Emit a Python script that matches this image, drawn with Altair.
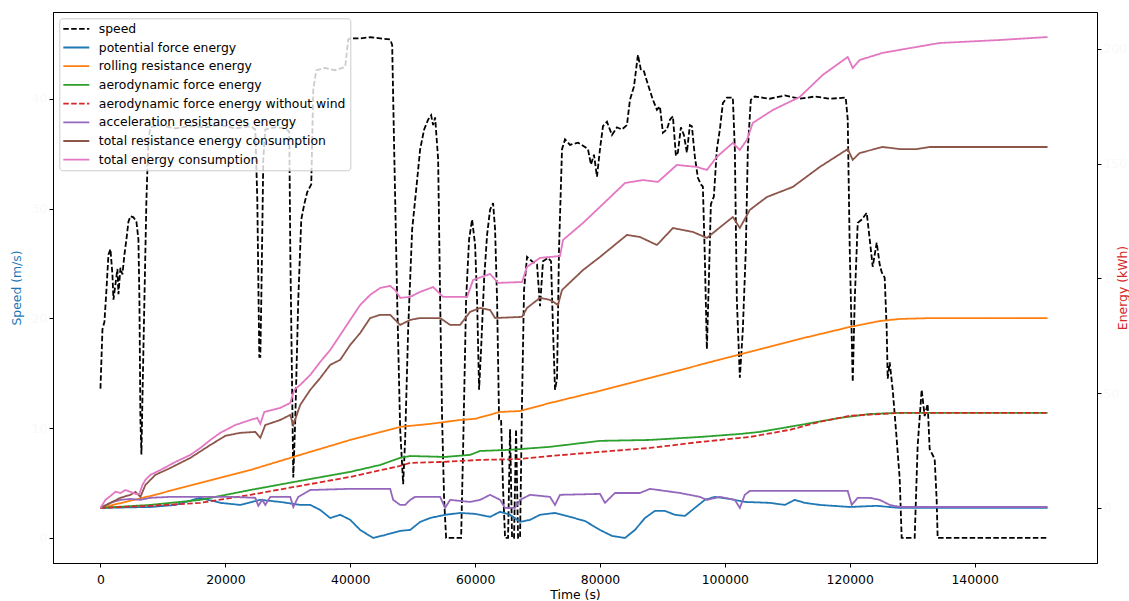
import altair as alt
import pandas as pd

# ---------------- data ----------------
TIME_TICKS = [0, 20000, 40000, 60000, 80000, 100000, 120000, 140000]
SPEED_TICKS = [0, 10, 20, 30, 40]
ENERGY_TICKS = [0, 50, 100, 150, 200]

SERIES = [
    "speed",
    "potential force energy",
    "rolling resistance energy",
    "aerodynamic force energy",
    "aerodynamic force energy without wind",
    "acceleration resistances energy",
    "total resistance energy consumption",
    "total energy consumption",
]
COLORS = ["#000000", "#1f77b4", "#ff7f0e", "#2ca02c", "#d62728", "#9467bd", "#8c564b", "#e377c2"]
DASHED = [True, False, False, False, True, False, False, False]

# (time s, speed m/s)
SPEED = [
    (0, 13.6), (320, 19.0), (640, 19.7), (960, 22.6), (1280, 25.8), (1600, 26.3), (1920, 24.0),
    (2080, 21.7), (2400, 23.1), (2720, 24.5), (2880, 22.2), (3200, 24.6), (3520, 24.0), (3840, 25.8),
    (4160, 27.2), (4480, 28.8), (4800, 29.3), (5280, 29.2), (5760, 28.8), (6080, 27.2), (6240, 21.7),
    (6400, 10.8), (6560, 7.6), (6720, 12.6), (7040, 21.7), (7360, 30.8), (7680, 36.3), (8000, 37.4),
    (9600, 37.6), (12000, 37.3), (14400, 37.5), (16800, 37.4), (19200, 37.6), (21600, 37.3),
    (24000, 37.5), (24800, 37.2), (25120, 30.8), (25440, 16.5), (25600, 16.5), (25760, 21.7),
    (26080, 34.5), (26400, 37.2), (28000, 37.4), (29600, 37.3), (30240, 37.0), (30400, 26.3),
    (30720, 12.6), (30880, 5.5), (31200, 10.8), (31680, 21.7), (32160, 29.0), (32640, 30.4),
    (33120, 31.5), (33760, 32.2), (34080, 40.8), (34560, 42.6), (36000, 42.8), (37600, 42.6),
    (39200, 42.9), (39680, 45.4), (40000, 45.5), (41600, 45.5), (43200, 45.6), (44800, 45.5),
    (46400, 45.4), (46720, 44.9), (47040, 35.4), (47520, 21.7), (48000, 9.9), (48480, 4.9),
    (48800, 9.0), (49280, 19.0), (49920, 28.1), (50560, 31.7), (51200, 35.4), (51840, 37.2),
    (52480, 38.1), (52960, 38.5), (53280, 37.6), (53600, 38.3), (54080, 34.5), (54400, 21.7),
    (54720, 10.8), (55040, 3.5), (55360, 0), (57760, 0), (58080, 8.1), (58560, 21.7), (59040, 27.2),
    (59520, 29.0), (60000, 26.7), (60320, 21.7), (60640, 13.5), (60960, 17.2), (61440, 23.5),
    (61920, 27.6), (62400, 29.9), (62880, 30.5), (63200, 28.1), (63520, 21.7), (63840, 10.8),
    (64160, 10.8), (64480, 4.5), (64800, 0), (65280, 0), (65600, 9.9), (65920, 0), (66240, 0),
    (66560, 9.9), (66880, 0), (67200, 0), (67520, 12.6), (67840, 22.6), (68320, 25.6), (69120, 25.2),
    (69920, 24.9), (70400, 21.1), (70880, 25.2), (71680, 25.5), (72160, 25.2), (72480, 19.0),
    (72800, 13.5), (73120, 14.5), (73440, 26.3), (73920, 35.4), (74400, 36.3), (75200, 35.8),
    (76480, 36.0), (77600, 35.6), (78080, 35.4), (78560, 34.0), (79040, 34.9), (79520, 32.9),
    (80000, 35.4), (80480, 37.5), (81120, 37.9), (81920, 36.7), (82720, 37.4), (83520, 37.2),
    (84320, 37.6), (84800, 39.9), (85440, 41.1), (86080, 44.0), (86560, 42.6), (87040, 42.5),
    (87680, 41.3), (88480, 39.9), (89120, 39.0), (89600, 39.3), (90080, 36.9), (90720, 37.2),
    (91200, 38.1), (91680, 38.4), (92160, 34.8), (92480, 35.1), (92960, 37.4), (93440, 36.7),
    (93920, 35.1), (94400, 37.6), (94720, 37.5), (95200, 34.7), (95680, 32.8), (96160, 32.2),
    (96480, 32.0), (96800, 25.4), (97120, 17.2), (97440, 23.5), (97760, 30.4), (98240, 31.1),
    (98720, 35.4), (99200, 37.2), (99680, 39.6), (100320, 40.1), (101280, 40.1), (101600, 35.4),
    (101920, 21.7), (102400, 14.6), (102880, 19.0), (103360, 26.3), (103680, 35.4), (104160, 39.9),
    (104800, 40.2), (107200, 40.0), (109600, 40.3), (112000, 40.0), (114400, 40.2), (116800, 40.0),
    (119360, 40.1), (119680, 38.1), (120000, 26.3), (120480, 14.2), (120800, 21.7), (121280, 28.7),
    (121920, 29.0), (122720, 29.6), (123200, 27.2), (123680, 24.7), (124320, 26.9), (124800, 24.9),
    (125120, 24.2), (125600, 23.7), (125920, 19.0), (126080, 14.5), (126400, 16.0), (126880, 13.5),
    (127520, 9.0), (128000, 5.4), (128320, 0), (130400, 0), (130880, 8.4), (131520, 13.5),
    (132000, 11.1), (132480, 12.2), (132800, 8.1), (133600, 7.2), (133920, 3.5), (134080, 0),
    (151680, 0),
]

# (time s, energy kWh)
POTENTIAL = [
    (0, 0), (8000, 0.4), (12000, 1.3), (16000, 4.4), (19200, 2.2), (22400, 1.3), (25600, 3.5),
    (28800, 2.6), (32000, 1.3), (33600, 1.3), (35200, -0.9), (36800, -4.4), (38400, -3.0),
    (40000, -5.2), (41600, -9.6), (43680, -13.1), (45600, -11.8), (48000, -10.0), (49600, -9.6),
    (51200, -6.1), (52800, -4.4), (55200, -3.0), (57600, -2.2), (60000, -2.6), (62400, -3.9),
    (64000, -1.7), (65600, -3.0), (67200, -6.1), (68800, -5.2), (70400, -3.0), (72800, -2.2),
    (75200, -3.9), (77600, -5.7), (80000, -9.6), (81920, -12.2), (84000, -13.1), (85600, -9.6),
    (87200, -4.4), (88800, -1.3), (90400, -1.3), (92000, -3.0), (93600, -3.5), (95200, 0),
    (96800, 3.5), (98400, 4.8), (100800, 3.9), (103200, 2.6), (107200, 2.2), (109600, 1.3),
    (111200, 3.5), (112800, 2.2), (115200, 1.3), (120000, 0.4), (124320, 0.9), (128000, 0),
    (151680, 0),
]
ROLLING = [
    (0, 0), (8000, 5.2), (16000, 10.9), (24000, 16.5), (32000, 23.1), (40000, 29.6), (48000, 35.3),
    (52800, 36.6), (57600, 38.3), (60000, 38.8), (64000, 41.8), (67200, 42.2), (72000, 45.7),
    (80000, 51.0), (96000, 62.3), (112000, 73.6), (120000, 78.8), (124800, 81.4), (128000, 82.3),
    (133280, 82.7), (151680, 82.7),
]
AERO = [
    (0, 0), (8000, 1.3), (16000, 3.5), (24000, 7.8), (32000, 11.8), (40000, 15.7), (44800, 18.7),
    (48000, 21.8), (49600, 22.6), (55200, 22.2), (59200, 23.1), (60800, 24.8), (65600, 25.3),
    (72000, 26.6), (80000, 29.2), (88000, 29.6), (96000, 30.9), (102400, 32.2), (105600, 33.1),
    (112000, 36.1), (118400, 39.2), (123200, 40.9), (128000, 41.4), (151680, 41.4),
]
AERO_NO_WIND = [
    (0, 0), (8000, 0.9), (16000, 2.2), (24000, 5.7), (32000, 9.6), (40000, 13.5), (48000, 18.3),
    (49600, 19.6), (54400, 20.0), (60800, 20.9), (67200, 21.3), (72000, 22.6), (80000, 24.4),
    (88000, 26.1), (96000, 28.7), (104000, 30.9), (110400, 34.0), (115200, 37.5), (120000, 40.1),
    (124800, 40.9), (128000, 41.4), (151680, 41.4),
]
ACCELERATION = [
    (0, 0), (1600, 2.2), (3200, 3.5), (4800, 3.9), (6400, 3.5), (8000, 4.4), (11200, 4.8),
    (16000, 4.8), (20800, 4.8), (24800, 4.4), (25280, 0.9), (25920, 3.5), (26400, 1.3), (27200, 4.8),
    (30400, 4.8), (30880, 0.4), (31680, 4.8), (33600, 7.8), (40000, 8.3), (46400, 8.3), (46880, 3.5),
    (48000, 1.3), (48800, 1.3), (49600, 3.5), (50400, 4.8), (54400, 4.8), (55200, 0), (56000, 3.5),
    (59200, 2.6), (60800, 3.5), (62400, 5.7), (64000, 3.5), (64800, 0), (66400, 0), (67200, 3.5),
    (68800, 5.7), (72000, 4.8), (72800, 1.3), (73600, 5.7), (80000, 6.1), (80800, 2.2), (82400, 6.5),
    (86400, 6.5), (88000, 8.3), (92800, 6.5), (96000, 4.8), (97120, 3.5), (99200, 4.8), (101600, 3.5),
    (102400, 0), (103200, 5.7), (104000, 7.4), (119680, 7.4), (120320, 1.3), (121280, 4.4),
    (123200, 4.4), (124800, 3.5), (126400, 1.3), (128000, 0.4), (151680, 0.4),
]
TOTAL_RESISTANCE = [
    (0, 0), (1600, 2.2), (3200, 4.4), (4800, 5.7), (5600, 7.0), (6400, 4.8), (7200, 10.0),
    (8800, 14.4), (11200, 17.4), (14400, 21.8), (17600, 27.4), (20000, 31.4), (22400, 32.7),
    (24800, 33.1), (25600, 30.5), (26400, 36.1), (28800, 38.3), (30400, 40.5), (30880, 36.1),
    (32000, 44.9), (33600, 51.4), (35200, 56.6), (36800, 62.3), (38400, 64.5), (40000, 71.0),
    (41600, 76.2), (43200, 82.7), (44800, 84.1), (46400, 84.1), (48000, 79.7), (49600, 81.9),
    (51200, 82.7), (54400, 82.7), (56000, 79.7), (57600, 79.7), (59200, 85.4), (60800, 87.1),
    (62400, 86.2), (63200, 82.7), (67520, 83.2), (68320, 87.1), (70400, 91.5), (72000, 90.6),
    (73280, 88.4), (73920, 94.9), (77280, 103.6), (80000, 109.3), (84320, 118.9), (86400, 118.0),
    (89120, 114.5), (91680, 121.9), (94880, 120.2), (97120, 117.6), (101280, 126.7), (102400, 121.9),
    (104000, 129.8), (106720, 135.4), (110880, 139.8), (115200, 148.5), (119680, 156.3),
    (120480, 151.6), (121600, 154.6), (125280, 157.2), (128000, 156.3), (130720, 156.3),
    (132800, 157.2), (151680, 157.2),
]
TOTAL_ENERGY = [
    (0, 0), (800, 3.5), (1600, 5.2), (2400, 7.0), (3200, 6.5), (4000, 7.8), (4800, 7.0), (5600, 6.1),
    (6240, 6.1), (6720, 10.0), (7200, 12.2), (8000, 14.4), (9600, 16.5), (12000, 20.0), (14400, 23.1),
    (16000, 26.1), (17600, 29.6), (19200, 32.7), (21600, 36.1), (24000, 38.3), (25120, 39.2),
    (25600, 36.6), (26240, 41.8), (28800, 43.6), (30400, 45.7), (31040, 51.4), (32000, 53.6),
    (33600, 57.9), (35200, 63.6), (36800, 68.8), (38400, 75.3), (40000, 81.9), (41600, 88.4),
    (43200, 92.8), (44800, 95.8), (46400, 96.7), (47200, 94.9), (48000, 91.5), (49600, 91.9),
    (51200, 94.1), (53280, 96.2), (54880, 91.9), (58720, 91.9), (59680, 99.3), (62400, 101.9),
    (63680, 98.0), (67520, 98.4), (68320, 105.0), (70400, 108.9), (73600, 109.7), (74080, 116.7),
    (77280, 124.1), (80000, 131.1), (84000, 141.5), (86880, 142.8), (89280, 142.0), (92320, 149.4),
    (95520, 148.5), (97120, 147.2), (98720, 152.9), (101280, 159.0), (102400, 155.9), (103520, 160.3),
    (104480, 167.7), (107680, 173.3), (112000, 179.0), (115680, 188.6), (119680, 196.4),
    (120480, 191.6), (121600, 195.1), (125280, 198.2), (128000, 199.5), (134400, 202.5),
    (144000, 203.8), (151680, 205.1),
]

ENERGY_SERIES = [POTENTIAL, ROLLING, AERO, AERO_NO_WIND, ACCELERATION, TOTAL_RESISTANCE, TOTAL_ENERGY]

# ---------------- tables ----------------
speed_df = pd.DataFrame(SPEED, columns=["t", "v"])
speed_df["series"] = SERIES[0]

frames = []
for name, pts in zip(SERIES[1:], ENERGY_SERIES):
    f = pd.DataFrame(pts, columns=["t", "e"])
    f["series"] = name
    frames.append(f)
energy_df = pd.concat(frames, ignore_index=True)

DASH_RANGE = [[5.5, 2.4] if d else [1, 0] for d in DASHED]

FONT = "DejaVu Sans"
FS = 12.4
FAINT = "#f9f9f9"

legend = alt.Legend(
    title=None,
    orient="none",
    legendX=6.3,
    legendY=6.3,
    symbolType="M-2.5,0H2.5",
    symbolSize=108,
    symbolStrokeWidth=1.8,
    symbolOffset=6.5,
    labelOffset=16,
    labelFont=FONT,
    labelFontSize=FS,
    labelColor="#000000",
    labelLimit=600,
    padding=4,
    rowPadding=5.7,
    fillColor="rgba(255,255,255,0.8)",
    strokeColor="#cccccc",
    cornerRadius=3,
)

color = alt.Color("series:N", scale=alt.Scale(domain=SERIES, range=COLORS), legend=legend)
dash = alt.StrokeDash("series:N", scale=alt.Scale(domain=SERIES, range=DASH_RANGE), legend=legend)

xenc = alt.X(
    "t:Q",
    scale=alt.Scale(domain=[-7600, 159600], nice=False, zero=False),
    axis=alt.Axis(
        values=TIME_TICKS, format="d", title="Time (s)", labelPadding=6,
        titleY=31, titleBaseline="middle", labelOverlap=False,
    ),
)

speed_axis = alt.Axis(
    orient="left", values=SPEED_TICKS, title="Speed (m/s)", titleColor="#1f77b4",
    labelColor=FAINT, titleAngle=270, titleX=-37, titleY=275.5,
    titleBaseline="middle", titleAlign="center",
)
energy_axis = alt.Axis(
    orient="right", values=ENERGY_TICKS, title="Energy (kWh)", titleColor="#d62728",
    labelColor=FAINT, titleAngle=270, titleX=25, titleY=275.5,
    titleBaseline="middle", titleAlign="center",
)

speed_layer = alt.Chart(speed_df).mark_line(strokeWidth=1.8).encode(
    x=xenc,
    y=alt.Y("v:Q", scale=alt.Scale(domain=[-2.28, 47.9], nice=False, zero=False), axis=speed_axis),
    color=color,
    strokeDash=dash,
)

energy_layers = []
for name in SERIES[1:]:
    energy_layers.append(
        alt.Chart(energy_df)
        .transform_filter(alt.datum.series == name)
        .mark_line(strokeWidth=1.8)
        .encode(
            x=xenc,
            y=alt.Y("e:Q", scale=alt.Scale(domain=[-24, 216], nice=False, zero=False), axis=energy_axis),
            color=color,
            strokeDash=dash,
        )
    )

energy = alt.layer(*energy_layers)

chart = (
    alt.layer(speed_layer, energy)
    .resolve_scale(y="independent")
    .properties(
        width=1044,
        height=551,
        autosize=alt.AutoSizeParams(type="none"),
        padding={"left": 53, "top": 12, "right": 32, "bottom": 38},
        background="white",
    )
    .configure_view(stroke="#000000", strokeWidth=1)
    .configure_axis(
        grid=False,
        domainColor="#000000",
        domainWidth=1,
        tickColor="#000000",
        tickWidth=1,
        tickSize=4,
        labelFont=FONT,
        titleFont=FONT,
        labelFontSize=FS,
        titleFontSize=FS,
        titleFontWeight="normal",
        labelColor="#000000",
        titleColor="#000000",
    )
)

chart.save("out.html", embed_options={"renderer": "svg", "actions": False})
